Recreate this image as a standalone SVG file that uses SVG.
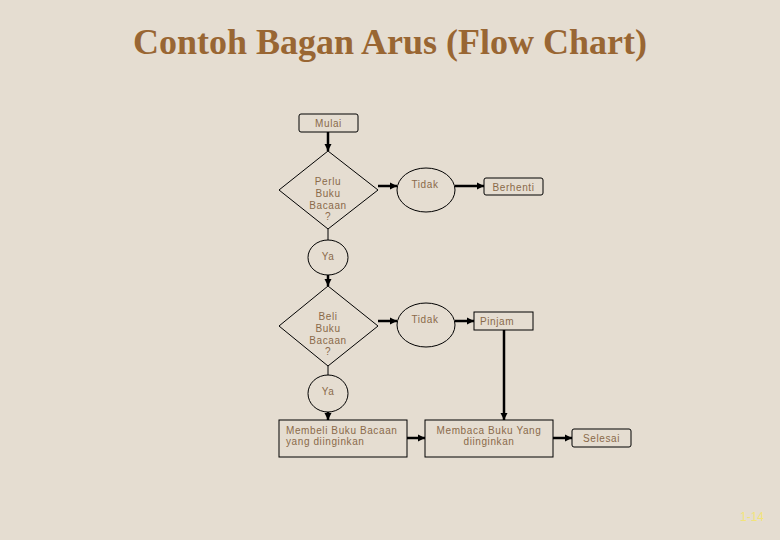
<svg xmlns="http://www.w3.org/2000/svg" width="780" height="540" viewBox="0 0 780 540">
<defs>
<marker id="ah" viewBox="0 0 10 10" refX="10" refY="5" markerWidth="3" markerHeight="3" orient="auto" markerUnits="strokeWidth">
<path d="M0,0 L10,5 L0,10 z" fill="#000"/>
</marker>
<style>
.sh{fill:none;stroke:#000;stroke-width:1}
.t{font-family:"Liberation Sans",Arial,sans-serif;font-size:10px;fill:#8a6a4a;letter-spacing:0.6px}
.c{stroke:#000;stroke-width:2.5;fill:none}
.ca{stroke:#000;stroke-width:2.5;fill:none;marker-end:url(#ah)}
.l{stroke:#000;stroke-width:1;fill:none}
</style>
</defs>
<rect width="780" height="540" fill="#e5ddd1"/>
<text x="390" y="54" text-anchor="middle" font-family="'Liberation Serif','Times New Roman',serif" font-weight="bold" font-size="36" fill="#996633">Contoh Bagan Arus (Flow Chart)</text>

<g id="connectors">
<line class="ca" x1="328" y1="132" x2="328" y2="151"/>
<line class="ca" x1="378" y1="186" x2="397" y2="186"/>
<line class="ca" x1="455" y1="186" x2="484" y2="186"/>
<line class="l" x1="328" y1="229" x2="328" y2="240"/>
<line class="ca" x1="328" y1="275" x2="328" y2="286"/>
<line class="ca" x1="378" y1="321" x2="397" y2="321"/>
<line class="ca" x1="455" y1="321" x2="474" y2="321"/>
<line class="l" x1="328" y1="366" x2="328" y2="375"/>
<line class="ca" x1="328" y1="412" x2="328" y2="420"/>
<line class="ca" x1="504" y1="330" x2="504" y2="420"/>
<line class="ca" x1="407" y1="438" x2="425" y2="438"/>
<line class="ca" x1="553" y1="438" x2="572" y2="438"/>
</g>

<g id="mulai">
<rect class="sh" x="299" y="114" width="59" height="18" rx="2"/>
<text class="t" x="328.5" y="127" text-anchor="middle">Mulai</text>
</g>
<g id="perlu">
<polygon class="sh" points="328,151 378,190 328,229 279,190"/>
<text class="t" x="328" y="185" text-anchor="middle">Perlu</text>
<text class="t" x="328" y="197" text-anchor="middle">Buku</text>
<text class="t" x="328" y="209" text-anchor="middle">Bacaan</text>
<text class="t" x="328" y="220" text-anchor="middle">?</text>
</g>
<g id="tidak1">
<ellipse class="sh" cx="426" cy="190" rx="29" ry="22"/>
<text class="t" x="425" y="188" text-anchor="middle">Tidak</text>
</g>
<g id="berhenti">
<rect class="sh" x="484" y="178" width="59" height="17" rx="2"/>
<text class="t" x="513.5" y="191" text-anchor="middle">Berhenti</text>
</g>
<g id="ya1">
<ellipse class="sh" cx="328" cy="257.5" rx="20" ry="17.5"/>
<text class="t" x="328" y="260" text-anchor="middle">Ya</text>
</g>
<g id="beli">
<polygon class="sh" points="328,286 378,326 328,366 279,326"/>
<text class="t" x="328" y="320" text-anchor="middle">Beli</text>
<text class="t" x="328" y="332" text-anchor="middle">Buku</text>
<text class="t" x="328" y="344" text-anchor="middle">Bacaan</text>
<text class="t" x="328" y="355" text-anchor="middle">?</text>
</g>
<g id="tidak2">
<ellipse class="sh" cx="426" cy="325" rx="29" ry="22"/>
<text class="t" x="425" y="323" text-anchor="middle">Tidak</text>
</g>
<g id="pinjam">
<rect class="sh" x="474" y="312" width="59" height="18"/>
<text class="t" x="497" y="325" text-anchor="middle">Pinjam</text>
</g>
<g id="ya2">
<ellipse class="sh" cx="328" cy="393.5" rx="20" ry="18.5"/>
<text class="t" x="328" y="395" text-anchor="middle">Ya</text>
</g>
<g id="membeli">
<rect class="sh" x="279" y="420" width="128" height="37"/>
<text class="t" x="286" y="434">Membeli Buku Bacaan</text>
<text class="t" x="286" y="445">yang diinginkan</text>
</g>
<g id="membaca">
<rect class="sh" x="425" y="420" width="128" height="37"/>
<text class="t" x="489" y="434" text-anchor="middle">Membaca Buku Yang</text>
<text class="t" x="489" y="445" text-anchor="middle">diinginkan</text>
</g>
<g id="selesai">
<rect class="sh" x="572" y="429" width="59" height="18" rx="2"/>
<text class="t" x="601.5" y="442" text-anchor="middle">Selesai</text>
</g>
<text x="752" y="521" text-anchor="middle" font-family="'Liberation Sans',Arial,sans-serif" font-size="12" fill="#f2e47a">1-14</text>
</svg>
